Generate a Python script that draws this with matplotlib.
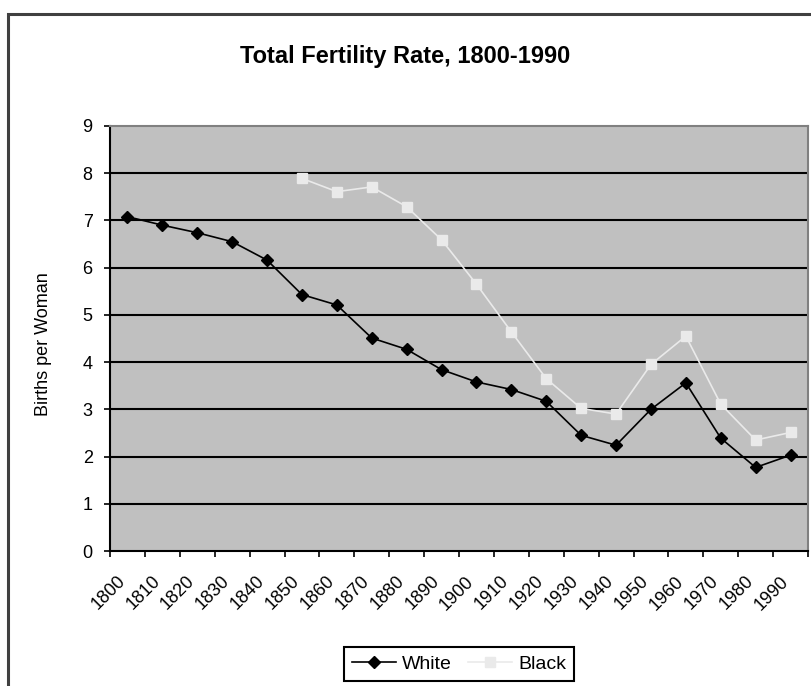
import matplotlib
matplotlib.use("Agg")
import matplotlib.pyplot as plt
import matplotlib.patches as mpatches
import matplotlib.transforms as mtransforms
import numpy as np

plt.rcParams['font.family'] = ['Liberation Sans', 'DejaVu Sans']

years = [1800, 1810, 1820, 1830, 1840, 1850, 1860, 1870, 1880, 1890,
         1900, 1910, 1920, 1930, 1940, 1950, 1960, 1970, 1980, 1990]
white = [7.08, 6.90, 6.74, 6.55, 6.16, 5.43, 5.21, 4.51, 4.27, 3.84,
         3.58, 3.42, 3.17, 2.45, 2.24, 3.00, 3.56, 2.39, 1.77, 2.03]
black = [None, None, None, None, None, 7.89, 7.61, 7.71, 7.29, 6.59,
         5.65, 4.64, 3.65, 3.02, 2.90, 3.95, 4.55, 3.11, 2.35, 2.51]
title = "Total Fertility Rate, 1800-1990"
ylabel = "Births per Woman"
yticks = [0, 1, 2, 3, 4, 5, 6, 7, 8, 9]

W, H = 811, 686
fig = plt.figure(figsize=(W / 100, H / 100), dpi=100)
fig.patch.set_facecolor('white')

# outer chart border
border = mpatches.Rectangle((8 / W, -0.2), 1.2, 1.2 + (1 - 14 / H) - 1 + 0.0,
                            transform=fig.transFigure, fill=False,
                            edgecolor='#404040', linewidth=2.2, zorder=0)
border.set_height(0.2 + 1 - 14 / H)
fig.patches.append(border)

left, right, top, bottom = 110, 808, 126, 551
ax = fig.add_axes([left / W, 1 - bottom / H, (right - left) / W, (bottom - top) / H])
ax.set_facecolor('#C0C0C0')

n = len(years)
xpos = np.arange(n) + 0.5
wv = np.array(white, dtype=float)
bv = np.array([np.nan if v is None else v for v in black], dtype=float)

for y in yticks[1:-1]:
    ax.axhline(y, color='black', linewidth=1.5, zorder=1)

ax.plot(xpos, bv, color='#EAEAEA', linewidth=1.2, marker='s', markersize=6.5,
        markerfacecolor='#EAEAEA', markeredgecolor='#EAEAEA', zorder=3, label='Black')
ax.plot(xpos, wv, color='black', linewidth=1.2, marker='D', markersize=6,
        markerfacecolor='black', markeredgecolor='black', zorder=4, label='White')

ax.set_xlim(0, n)
ax.set_ylim(0, 9)
ax.set_yticks(yticks)
ax.set_yticklabels([str(v) for v in yticks], fontsize=13)
ax.tick_params(axis='y', direction='out', length=4.5, width=1.2, pad=8, colors='black')

ax.set_xticks(np.arange(n + 1))
ax.set_xticklabels([])
ax.tick_params(axis='x', which='major', direction='out', length=4.5, width=1.2)
ax.set_xticks(xpos, minor=True)
ax.set_xticklabels([str(y) for y in years], minor=True, fontsize=13,
                   rotation=45, ha='right', va='center', rotation_mode='anchor')
ax.tick_params(axis='x', which='minor', length=0, pad=20)
offset = mtransforms.ScaledTranslation(-5 / 100, 0, fig.dpi_scale_trans)
for lab in ax.xaxis.get_minorticklabels():
    lab.set_transform(lab.get_transform() + offset)

for s in ['left', 'bottom']:
    ax.spines[s].set_color('black')
    ax.spines[s].set_linewidth(1.5)
for s in ['top', 'right']:
    ax.spines[s].set_color('#808080')
    ax.spines[s].set_linewidth(1.5)

fig.text(405 / W, 1 - 56 / H, title, ha='center', va='center',
         fontsize=17, fontweight='bold')
fig.text(43 / W, 1 - 344 / H, ylabel, ha='center', va='center',
         rotation=90, fontsize=13)

handles, labels = ax.get_legend_handles_labels()
leg = fig.legend(handles[::-1], labels[::-1], loc='center',
                 bbox_to_anchor=(459 / W, 1 - 664 / H), ncol=2,
                 fontsize=14, frameon=True, fancybox=False, framealpha=1,
                 edgecolor='black', handlelength=2.3, handletextpad=0.3,
                 columnspacing=0.8, borderpad=0.4)
leg.get_frame().set_linewidth(1.5)

fig.savefig('out.png', dpi=100)
